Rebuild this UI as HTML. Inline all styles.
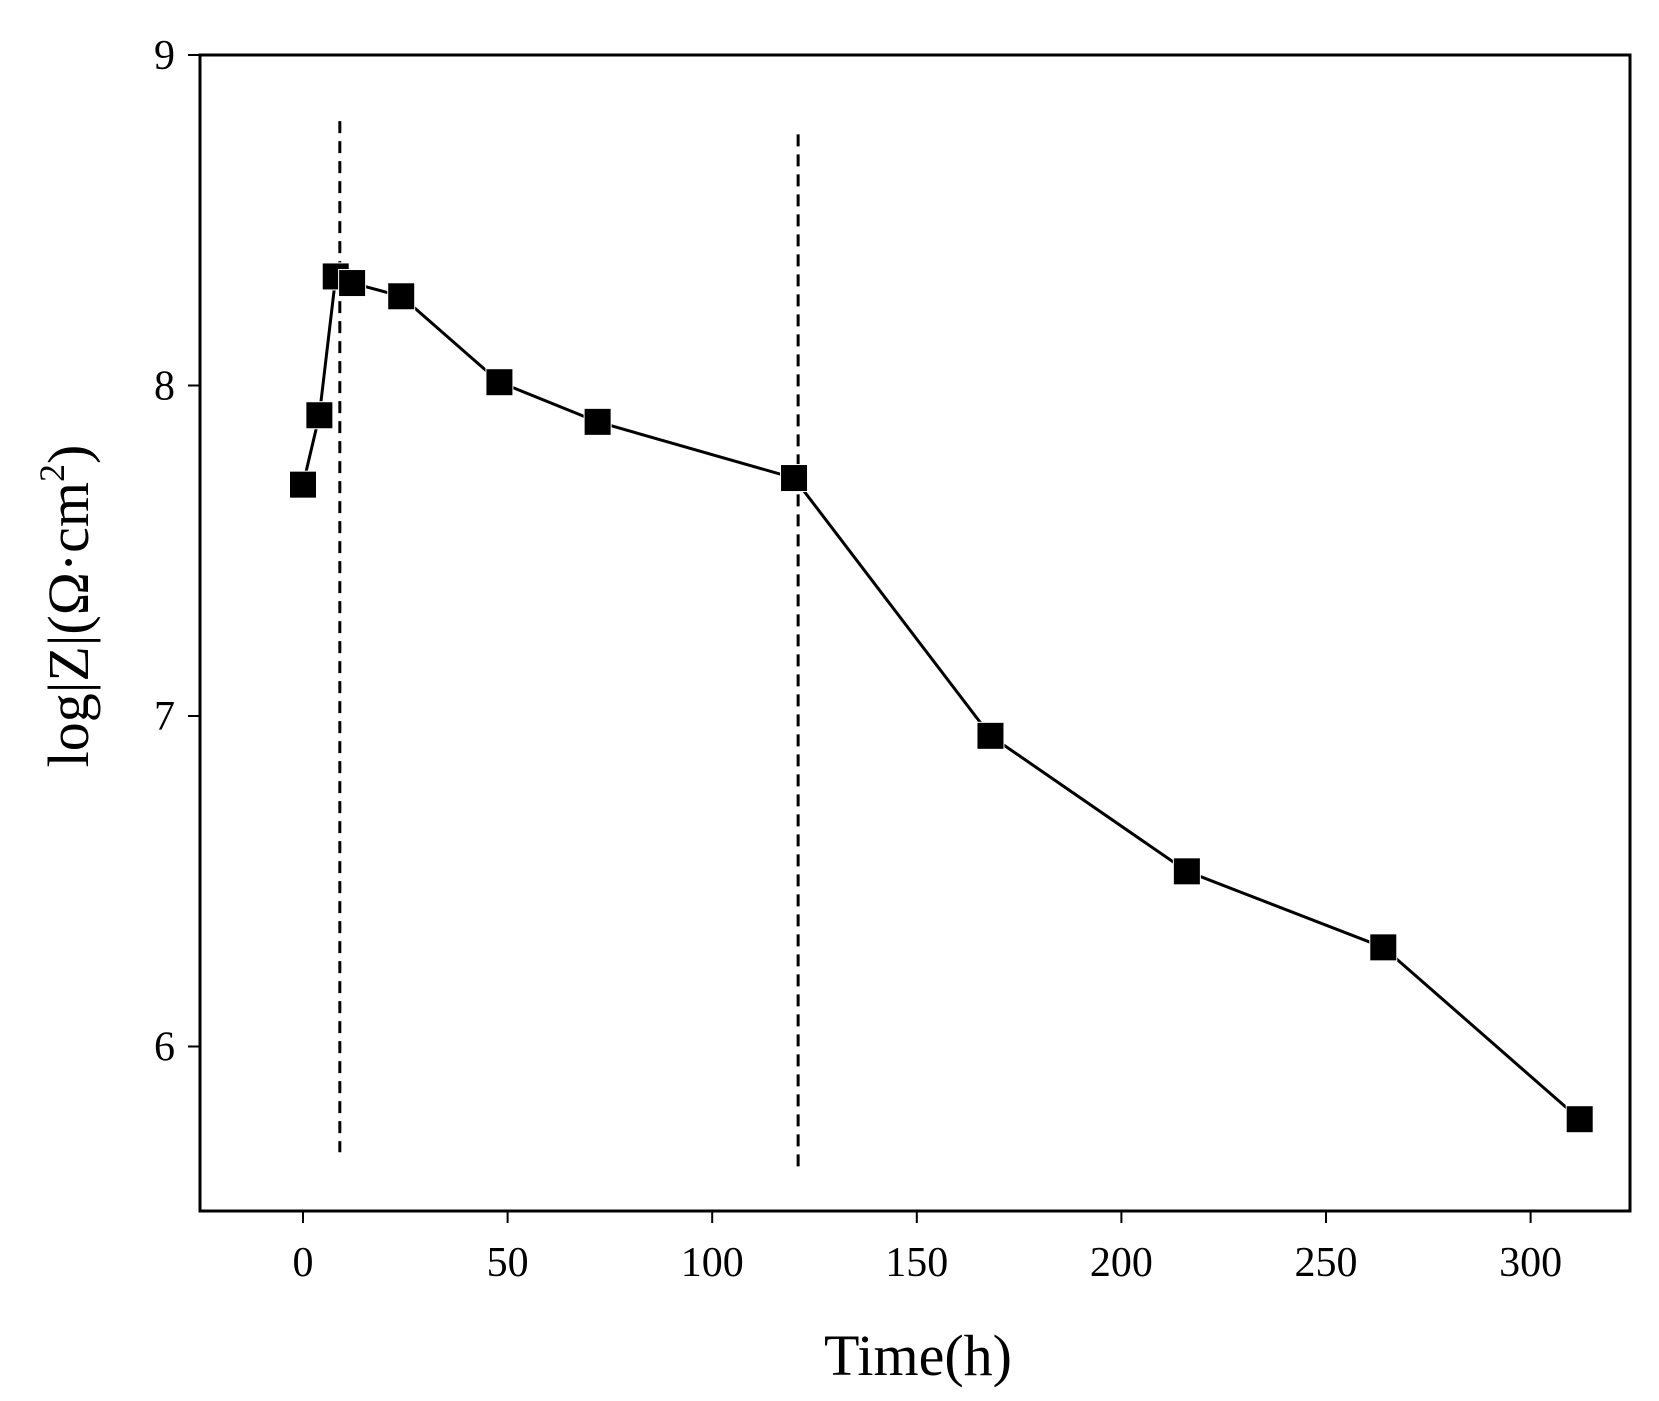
<!DOCTYPE html>
<html><head><meta charset="utf-8"><style>body{margin:0;background:#fff}svg{display:block}text{font-family:"Liberation Serif",serif;fill:#000}</style></head>
<body>
<svg id="chart" width="1659" height="1401" viewBox="0 0 1659 1401" xmlns="http://www.w3.org/2000/svg">
<rect x="200" y="55" width="1430" height="1156" fill="none" stroke="#000" stroke-width="3"/>
<g id="g"></g>
<text x="918" y="1375" font-size="58" text-anchor="middle">Time(h)</text>
<text transform="translate(88,606) rotate(-90)" font-size="58" text-anchor="middle">log|Z|(Ω·cm<tspan font-size="36" dy="-24">2</tspan><tspan dy="24">)</tspan></text>
</svg>
<script>
const times=[0,4,8,12,24,48,72,120,168,216,264,312];
const logZ=[7.70,7.91,8.33,8.31,8.27,8.01,7.89,7.72,6.94,6.53,6.30,5.78];
const xTicks=[0,50,100,150,200,250,300];
const yTicks=[6,7,8,9];
const dashX=[9,121];
const dashTop=[8.80,8.76];
const dashBottom=[5.68,5.63];
const NS='http://www.w3.org/2000/svg';
const X=v=>303+v*4.092;
const Y=v=>55+(9-v)*330.5;
const g=document.getElementById('g');
function mk(t,a){const e=document.createElementNS(NS,t);for(const k in a)e.setAttribute(k,a[k]);g.appendChild(e);return e;}
xTicks.forEach(v=>{
 const l=mk('line',{x1:X(v),x2:X(v),y1:1211,y2:1223,stroke:'#000','stroke-width':2});
 
 
 const t=mk('text',{x:X(v),y:1276,'font-size':42,'text-anchor':'middle'});t.textContent=v;
 
 
});
yTicks.forEach(v=>{
 const l=mk('line',{x1:188,x2:200,y1:Y(v),y2:Y(v),stroke:'#000','stroke-width':2});
 
 
 const t=mk('text',{x:175,y:Y(v)+14,'font-size':42,'text-anchor':'end'});t.textContent=v;
 
 
});
dashX.forEach((v,i)=>{
 const l=mk('line',{x1:X(v),x2:X(v),y1:Y(dashTop[i]),y2:Y(dashBottom[i]),stroke:'#000','stroke-width':3,'stroke-dasharray':'12,8'});
 
 
});
const p=mk('polyline',{points:times.map((t,i)=>X(t)+','+Y(logZ[i])).join(' '),fill:'none',stroke:'#000','stroke-width':3});


times.forEach((t,i)=>{
 const r=mk('rect',{x:X(t)-13.5,y:Y(logZ[i])-13.5,width:27,height:27,fill:'#000',stroke:'#fff','stroke-width':1});
 
 
});
</script>
</body></html>
